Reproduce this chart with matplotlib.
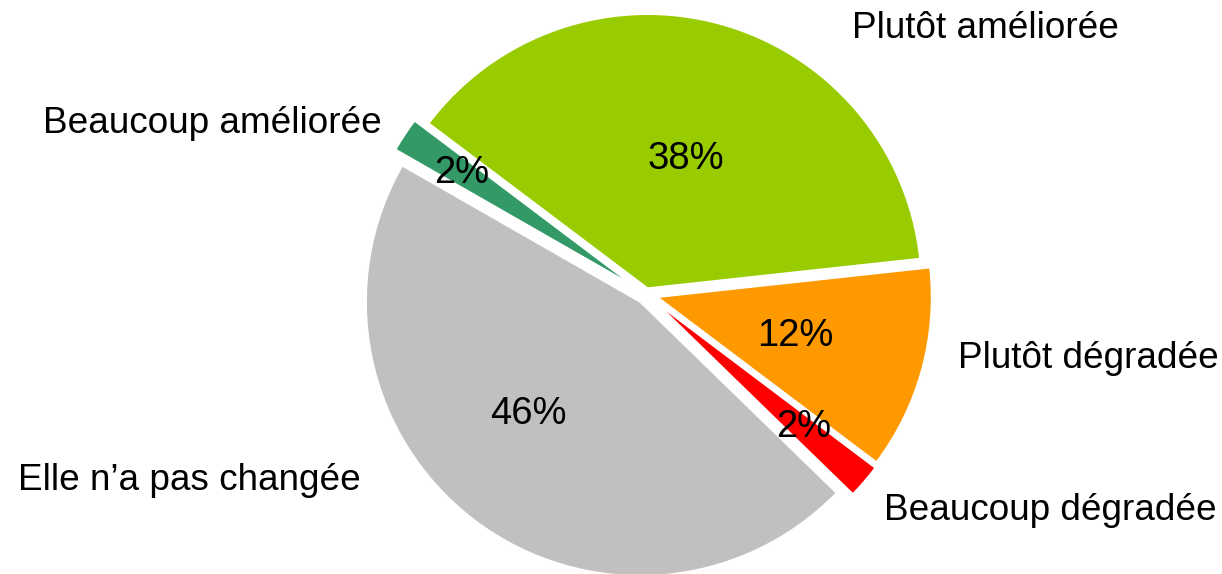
import matplotlib

matplotlib.use("Agg")

import matplotlib.pyplot as plt

plt.rcParams["font.family"] = ["Liberation Sans", "DejaVu Sans"]

# data, clockwise from the top-left edge of the big green slice
categories = [
    "Plutôt améliorée",
    "Plutôt dégradée",
    "Beaucoup dégradée",
    "Elle n\u2019a pas changée",
    "Beaucoup améliorée",
]
shares = [38, 12, 2, 46, 2]
pct_labels = ["38%", "12%", "2%", "46%", "2%"]

# styling / layout
colors = ["#99CC00", "#FF9900", "#FF0000", "#C0C0C0", "#339966"]
explode = [0.022, 0.044, 0.05, 0.036, 0.055]
# text anchors (left, baseline) in pie units, radius = 1
name_pos = [(0.752, 0.934), (1.139, -0.270), (0.869, -0.825),
            (-2.292, -0.715), (-2.201, 0.588)]
pct_pos = [(0.004, 0.456), (0.405, -0.190), (0.474, -0.522),
           (-0.569, -0.474), (-0.774, 0.405)]

fig = plt.figure(figsize=(12.22, 5.74), dpi=100)
ax = fig.add_axes([0, 0, 1, 1])
ax.pie(
    shares, colors=colors, explode=explode, startangle=143,
    counterclock=False, radius=1,
    wedgeprops=dict(edgecolor="white", linewidth=1.2),
)
for (x, y), txt in zip(name_pos, categories):
    ax.text(x, y, txt, fontsize=26.6, ha="left", va="baseline")
for (x, y), txt in zip(pct_pos, pct_labels):
    ax.text(x, y, txt, fontsize=27.5, ha="left", va="baseline")

ax.set_xlim(-646 / 274, (1222 - 646) / 274)
ax.set_ylim((294 - 574) / 274, 294 / 274)
ax.set_aspect("equal", adjustable="datalim")
ax.axis("off")

fig.savefig("out.png", dpi=100)
